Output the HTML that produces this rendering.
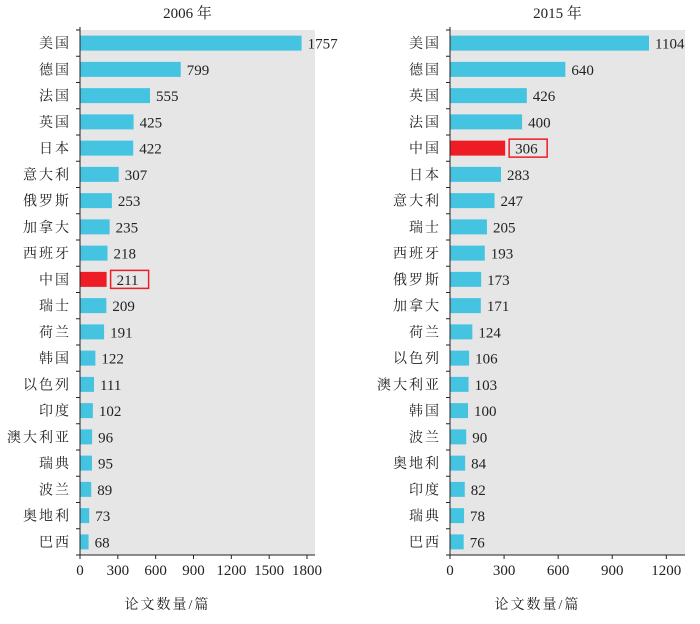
<!DOCTYPE html><html><head><meta charset="utf-8"><style>body{margin:0;background:#fff}</style></head><body>
<svg width="700" height="619" xmlns="http://www.w3.org/2000/svg" font-family="'Liberation Serif','Noto Serif CJK SC',serif" font-size="14" fill="#222">
</svg>
<script>
const ns="http://www.w3.org/2000/svg",svg=document.querySelector('svg');
function el(t,a,txt){const e=document.createElementNS(ns,t);for(const k in a)e.setAttribute(k,a[k]);if(txt!=null)e.textContent=txt;svg.appendChild(e);return e;}
function panel(x0,x1,scale,title,data,ticks,red){
 const top=30,bot=555,h=(bot-top)/20;
 el('rect',{x:x0,y:top,width:x1-x0,height:bot-top,fill:'#e6e6e6'});
 el('text',{x:(x0+x1)/2-10,y:18,'text-anchor':'middle','font-size':15},title);
 data.forEach((d,i)=>{const cy=top+h*i+h/2,w=d[1]*scale;
  el('rect',{x:x0,y:cy-7.5,width:w,height:15,fill:d[0]==red?'#ee1c25':'#45c4e2'});
  el('text',{x:x0-9,y:cy+5,'text-anchor':'end','font-size':14,'letter-spacing':'2'},d[0]);
  const tx=x0+w+6;
  if(d[0]==red){el('rect',{x:tx-2,y:cy-9,width:38,height:18,fill:'none',stroke:'#ee1c25','stroke-width':1.5});}
  el('text',{x:tx+(d[0]==red?4:0),y:cy+5.5,'font-size':15},d[1]);
 });
 el('line',{x1:x0,y1:top-3,x2:x0,y2:bot,stroke:'#222'});
 el('line',{x1:x0,y1:bot,x2:x1,y2:bot,stroke:'#222'});
 for(let i=0;i<=20;i++)el('line',{x1:x0-4,y1:top+h*i,x2:x0,y2:top+h*i,stroke:'#222'});
 ticks.forEach(t=>{const x=x0+t*scale;el('line',{x1:x,y1:bot,x2:x,y2:bot+4,stroke:'#222'});el('text',{x:x,y:bot+20,'text-anchor':'middle','font-size':15},t);});
 el('text',{x:(x0+x1)/2-30,y:609,'text-anchor':'middle','font-size':14,'letter-spacing':'2'},'论文数量/篇');
}
panel(80,315,227/1800,'2006 年',[['美国',1757],['德国',799],['法国',555],['英国',425],['日本',422],['意大利',307],['俄罗斯',253],['加拿大',235],['西班牙',218],['中国',211],['瑞士',209],['荷兰',191],['韩国',122],['以色列',111],['印度',102],['澳大利亚',96],['瑞典',95],['波兰',89],['奥地利',73],['巴西',68]],[0,300,600,900,1200,1500,1800],'中国');
panel(450,685,199/1104,'2015 年',[['美国',1104],['德国',640],['英国',426],['法国',400],['中国',306],['日本',283],['意大利',247],['瑞士',205],['西班牙',193],['俄罗斯',173],['加拿大',171],['荷兰',124],['以色列',106],['澳大利亚',103],['韩国',100],['波兰',90],['奥地利',84],['印度',82],['瑞典',78],['巴西',76]],[0,300,600,900,1200],'中国');
</script>
</body></html>
